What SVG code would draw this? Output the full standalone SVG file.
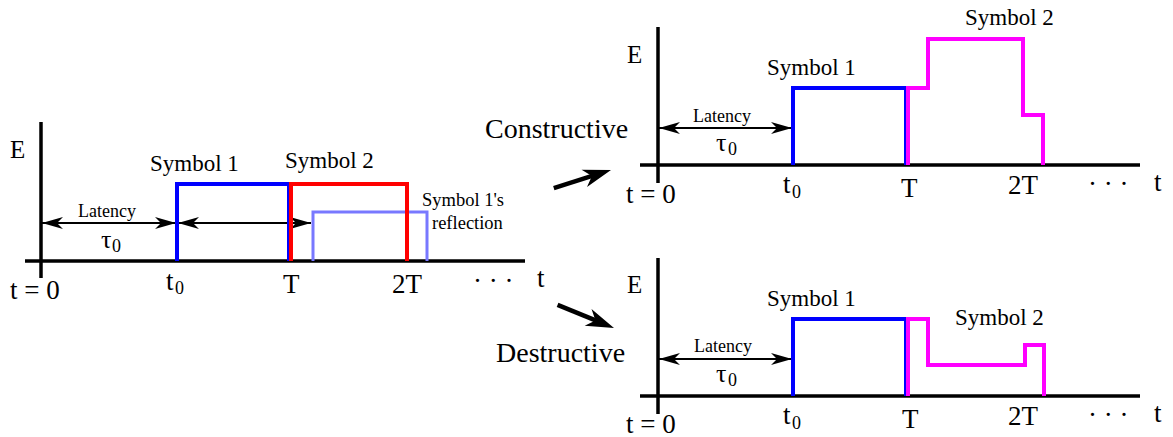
<svg xmlns="http://www.w3.org/2000/svg" width="1173" height="437" viewBox="0 0 1173 437" font-family="'Liberation Serif', Tinos, 'Times New Roman', Times, 'DejaVu Serif', 'Noto Serif', serif">
<style>
text{font-family:'Liberation Serif', Tinos, 'Times New Roman', Times, 'DejaVu Serif', 'Noto Serif', serif;fill:#000}
.ax{stroke:#000;stroke-width:3.5;fill:none}
.b{stroke:#0000ff;stroke-width:4;fill:none}
.r{stroke:#ff0000;stroke-width:4;fill:none}
.rf{stroke:#7878ff;stroke-width:3;fill:none}
.m{stroke:#ff00ff;stroke-width:4;fill:none}
.dim{stroke:#000;stroke-width:2;fill:none;marker-start:url(#ah);marker-end:url(#ah)}
.big{font-size:27px}
.sym{font-size:23px}
.sm{font-size:18px}
.sub{font-size:18px}
.lab{font-size:28px}
</style>
<defs>
<marker id="ah" viewBox="-22 -8 24 16" refX="0" refY="0" markerWidth="24" markerHeight="16" markerUnits="userSpaceOnUse" orient="auto-start-reverse">
<path d="M0,0 L-21,-6 L-15,0 L-21,6 Z" fill="#000"/>
</marker>
</defs>

<g id="initial-plot">
<line class="ax" x1="25" y1="261" x2="525" y2="261"/>
<line class="ax" x1="41" y1="122" x2="41" y2="278"/>
<line class="dim" x1="42" y1="223" x2="176" y2="223"/>
<line class="dim" x1="178" y1="223" x2="311" y2="223"/>
<polyline class="b" points="177,261 177,184 289,184 289,261"/>
<polyline class="rf" points="313,261 313,212 427,212 427,261"/>
<polyline class="r" points="291,261 291,184 407,184 407,261"/>
<text x="10" y="158" font-size="25">E</text>
<text class="sym" x="150" y="171">Symbol 1</text>
<text class="sym" x="285" y="168">Symbol 2</text>
<text x="422" y="206" font-size="18.5">Symbol 1's</text>
<text x="432" y="229" font-size="18.5">reflection</text>
<text class="sm" x="78" y="217">Latency</text>
<text x="101" y="248" font-size="26">τ</text><text class="sub" x="112" y="252">0</text>
<text class="big" x="10" y="299">t = 0</text>
<text class="big" x="166" y="290">t</text><text class="sub" x="175" y="294">0</text>
<text class="big" x="283" y="293">T</text>
<text class="big" x="392" y="293">2T</text>
<text class="big" x="473" y="290">· · ·</text>
<text class="big" x="537" y="287">t</text>
</g>

<g id="constructive-plot">
<line class="ax" x1="640" y1="165" x2="1140" y2="165"/>
<line class="ax" x1="658" y1="27" x2="658" y2="183"/>
<line class="dim" x1="659" y1="128" x2="792" y2="128"/>
<polyline class="b" points="793,165 793,88 906,88 906,165"/>
<polyline class="m" points="908,165 908,88 928,88 928,39 1023,39 1023,115 1043,115 1043,165"/>
<text x="627" y="63" font-size="25">E</text>
<text class="sym" x="767" y="75">Symbol 1</text>
<text class="sym" x="965" y="25">Symbol 2</text>
<text class="lab" x="485" y="138">Constructive</text>
<text class="sm" x="693" y="122">Latency</text>
<text x="716" y="151" font-size="26">τ</text><text class="sub" x="728" y="155">0</text>
<text class="big" x="626" y="203">t = 0</text>
<text class="big" x="783" y="193">t</text><text class="sub" x="792" y="198">0</text>
<text class="big" x="901" y="197">T</text>
<text class="big" x="1008" y="194">2T</text>
<text class="big" x="1088" y="193">· · ·</text>
<text class="big" x="1154" y="191">t</text>
</g>

<g id="destructive-plot">
<line class="ax" x1="640" y1="396" x2="1140" y2="396"/>
<line class="ax" x1="658" y1="258" x2="658" y2="414"/>
<line class="dim" x1="659" y1="359" x2="792" y2="359"/>
<polyline class="b" points="793,396 793,319 906,319 906,396"/>
<polyline class="m" points="908,396 908,319 928,319 928,365 1025,365 1025,345 1044,345 1044,396"/>
<text x="627" y="293" font-size="25">E</text>
<text class="sym" x="767" y="306">Symbol 1</text>
<text class="sym" x="955" y="325">Symbol 2</text>
<text class="lab" x="496" y="362">Destructive</text>
<text class="sm" x="694" y="352">Latency</text>
<text x="716" y="382" font-size="26">τ</text><text class="sub" x="728" y="386">0</text>
<text class="big" x="626" y="433">t = 0</text>
<text class="big" x="783" y="424">t</text><text class="sub" x="792" y="429">0</text>
<text class="big" x="902" y="428">T</text>
<text class="big" x="1008" y="425">2T</text>
<text class="big" x="1088" y="424">· · ·</text>
<text class="big" x="1154" y="422">t</text>
</g>

<g id="connectors">
<g transform="translate(611,170) rotate(-17.5)">
<line x1="-60" y1="0" x2="-14" y2="0" stroke="#000" stroke-width="4.5"/>
<path d="M0,0 L-28,-9 L-20,0 L-28,9 Z" fill="#000"/>
</g>
<g transform="translate(614,328) rotate(22.3)">
<line x1="-61" y1="0" x2="-14" y2="0" stroke="#000" stroke-width="4.5"/>
<path d="M0,0 L-28,-9 L-20,0 L-28,9 Z" fill="#000"/>
</g>
</g>
</svg>
